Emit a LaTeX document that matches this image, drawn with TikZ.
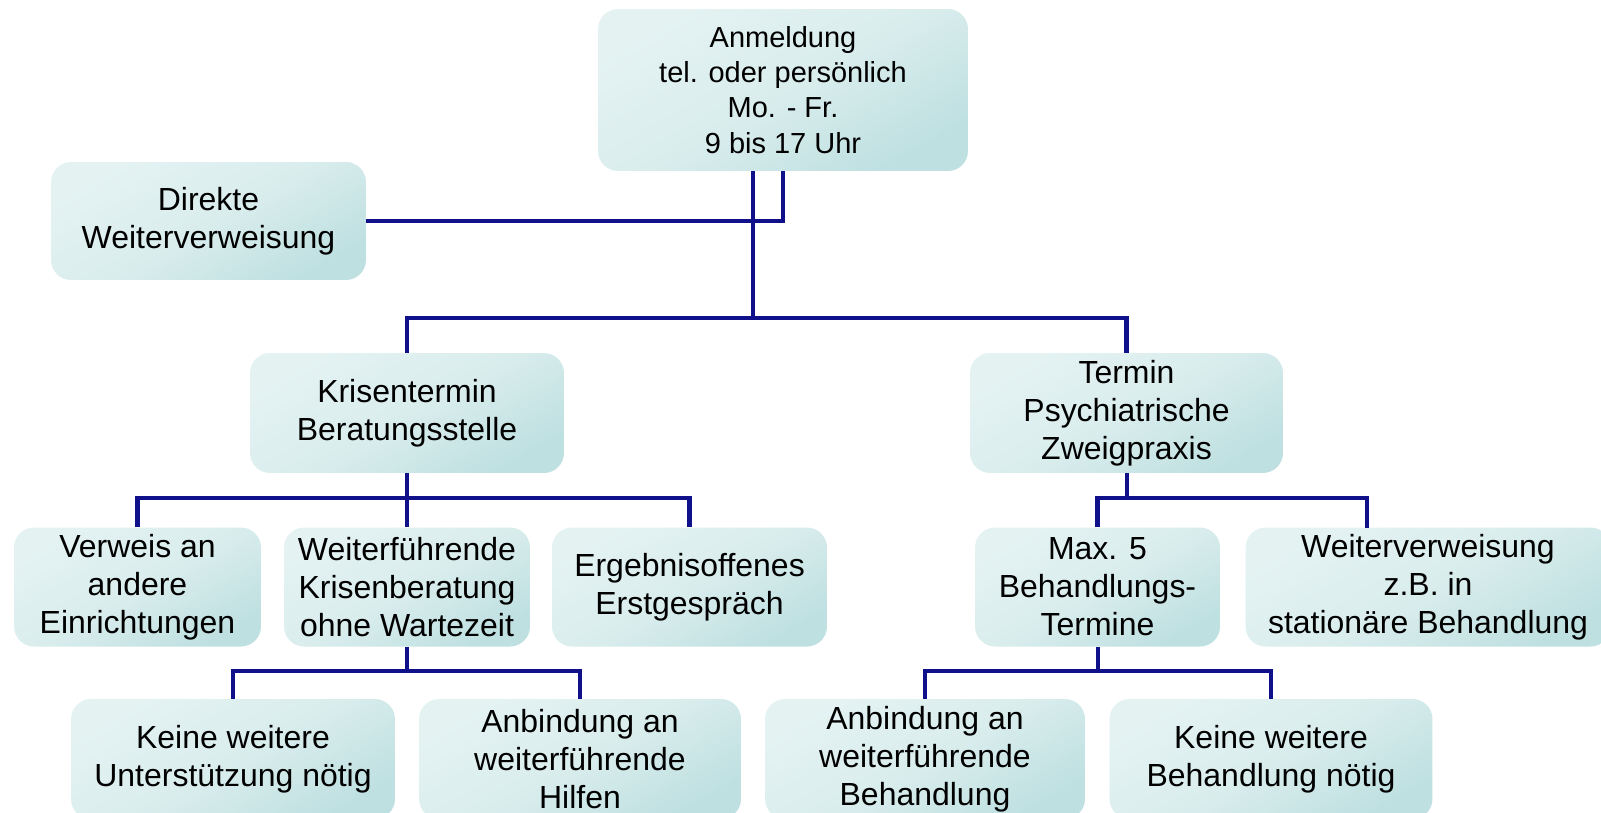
\documentclass[tikz,border=0pt]{standalone}
\usepackage{fontspec}
\setmainfont{Liberation Sans}
\definecolor{boxlight}{HTML}{E4F2F2}
\definecolor{boxmid}{HTML}{DAEDED}
\definecolor{boxdark}{HTML}{BFE0E1}
\definecolor{linkblue}{HTML}{10108A}
\tikzset{
  stepbox/.style={rounded corners=0.4cm, top color=boxlight, bottom color=boxdark,
    middle color=boxmid, shading angle=30, align=center, inner sep=2pt,
    minimum height=2.38cm, font=\fontsize{18.2}{21.6}\selectfont},
  link/.style={draw=linkblue, line width=2.6pt, line join=miter}
}
\begin{document}
\begin{tikzpicture}[x=0.02cm, y=-0.02cm]
% Page frame
\useasboundingbox (0,0) rectangle (1601,812);
\clip (0,0) rectangle (1601,812);

% Top level
\node[stepbox, minimum width=7.4cm, minimum height=3.24cm, font=\fontsize{16.5}{20}\selectfont] (anm) at (783,90)
  {Anmeldung\\tel. oder persönlich\\Mo. - Fr.\\9 bis 17 Uhr};
\node[stepbox, minimum width=6.3cm, minimum height=2.36cm] (direkt) at (208.5,221) {Direkte\\Weiterverweisung};

% Second level
\node[stepbox, minimum width=6.28cm, minimum height=2.4cm] (kris) at (407,413) {Krisentermin\\Beratungsstelle};
\node[stepbox, minimum width=6.26cm, minimum height=2.4cm] (termin) at (1126.5,413) {Termin\\Psychiatrische\\Zweigpraxis};

% Third level
\node[stepbox, minimum width=4.94cm] (verweis) at (137.5,587) {Verweis an\\andere\\Einrichtungen};
\node[stepbox, minimum width=4.92cm] (weiter) at (407,587) {Weiterführende\\Krisenberatung\\ohne Wartezeit};
\node[stepbox, minimum width=5.5cm] (ergebnis) at (689.5,587) {Ergebnisoffenes\\Erstgespräch};
\node[stepbox, minimum width=4.9cm] (max) at (1097.5,587) {Max. 5\\Behandlungs-\\Termine};
\node[stepbox, minimum width=7.3cm] (wv) at (1428,587) {Weiterverweisung\\z.B. in\\stationäre Behandlung};

% Fourth level
\node[stepbox, minimum width=6.48cm, minimum height=2.4cm] (keineU) at (233,759) {Keine weitere\\Unterstützung nötig};
\node[stepbox, minimum width=6.44cm, minimum height=2.4cm] (anbH) at (580,759) {Anbindung an\\weiterführende\\Hilfen};
\node[stepbox, minimum width=6.4cm, minimum height=2.4cm] (anbB) at (925,759) {Anbindung an\\weiterführende\\Behandlung};
\node[stepbox, minimum width=6.46cm, minimum height=2.4cm] (keineB) at (1271,759) {Keine weitere\\Behandlung nötig};

% Junctions
\coordinate (jA) at (753,318);
\coordinate (jB) at (407,498);
\coordinate (jC) at (1127,498);
\coordinate (jD) at (407,671);
\coordinate (jE) at (1098,671);
\coordinate (wvIn) at (1367,528);

% Connectors
\draw[link] (direkt.east) -| (anm.south);
\draw[link] (anm.south -| jA) -- (jA);
\draw[link] (kris.north) |- (jA) -| (termin.north);
\draw[link] (kris.south) -- (jB);
\draw[link] (verweis.north) |- (jB) -| (ergebnis.north);
\draw[link] (weiter.north) -- (jB);
\draw[link] (termin.south -| jC) -- (jC);
\draw[link] (max.north) |- (jC) -| (wvIn);
\draw[link] (weiter.south) -- (jD);
\draw[link] (keineU.north) |- (jD) -| (anbH.north);
\draw[link] (max.south -| jE) -- (jE);
\draw[link] (anbB.north) |- (jE) -| (keineB.north);
\end{tikzpicture}
\end{document}
